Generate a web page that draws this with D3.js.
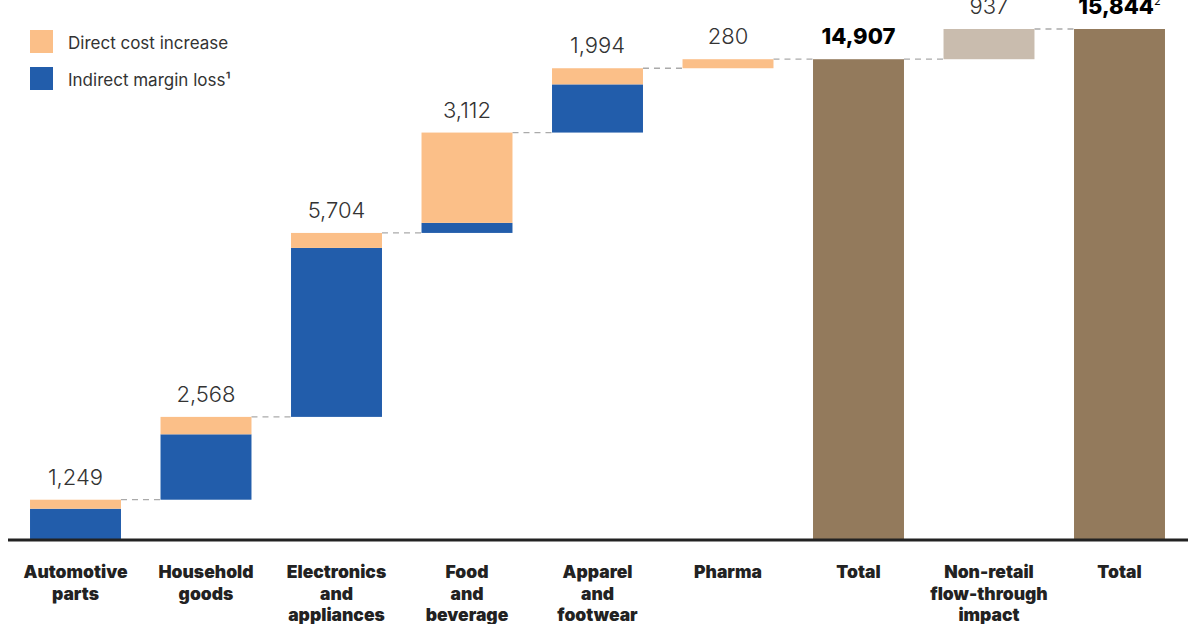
<!DOCTYPE html>
<html>
<head>
<meta charset="utf-8">
<script src="https://cdn.jsdelivr.net/npm/d3@7"></script>
<style>
  body { margin: 0; background: #fff; }
  text { font-family: Inter, "Open Sans", sans-serif; }
</style>
</head>
<body>
<div id="main"></div>
<script>
// values
var categories = ['Automotive parts', 'Household goods', 'Electronics and appliances',
	'Food and beverage', 'Apparel and footwear', 'Pharma'];
var categoryLines = [['Automotive', 'parts'], ['Household', 'goods'], ['Electronics', 'and', 'appliances'],
	['Food', 'and', 'beverage'], ['Apparel', 'and', 'footwear'], ['Pharma'],
	['Total'], ['Non-retail', 'flow-through', 'impact'], ['Total']];
var directCost = [279, 540, 465, 2800, 500, 280];
var indirectLoss = [970, 2028, 5239, 312, 1494, 0];
var nonRetail = 937;
var legendLabels = ['Direct cost increase', 'Indirect margin loss\u00b9'];

var colors = { direct: '#fbbf88', indirect: '#225dab', total: '#937a5c', nonRetail: '#c9bcae' };

var svgWidth = 1190, svgHeight = 624;
var svg = d3.select('#main').append('svg')
	.attr('width', svgWidth)
	.attr('height', svgHeight);

// build waterfall steps
var steps = [];
var run = 0;
categories.forEach(function(c, i){
	var tot = directCost[i] + indirectLoss[i];
	steps.push({ key: c, base: run, indirect: indirectLoss[i], direct: directCost[i], value: tot, type: 'retail' });
	run += tot;
});
var retailTotal = run;
steps.push({ key: 'Total1', base: 0, value: retailTotal, type: 'total' });
steps.push({ key: 'Non-retail', base: retailTotal, value: nonRetail, type: 'nonRetail' });
steps.push({ key: 'Total2', base: 0, value: retailTotal + nonRetail, type: 'total' });

var x = d3.scaleBand()
	.domain(steps.map(function(d){ return d.key; }))
	.range([10.25, 1184.75])
	.paddingInner(0.303)
	.paddingOuter(0.1515);

var y = d3.scaleLinear()
	.domain([0, retailTotal + nonRetail])
	.range([540, 29]);

var fmt = d3.format(',');

// connectors
for (var i = 0; i < steps.length - 1; i++) {
	var s = steps[i];
	var lvl = s.base + s.value;
	svg.append('line')
		.attr('x1', x(s.key) + x.bandwidth())
		.attr('x2', x(steps[i + 1].key))
		.attr('y1', y(lvl))
		.attr('y2', y(lvl))
		.style('stroke', '#aaa')
		.style('stroke-width', 1.3)
		.style('stroke-dasharray', '6,5');
}

var bars = svg.append('g');
steps.forEach(function(s){
	if (s.type == 'retail') {
		if (s.indirect > 0) {
			bars.append('rect')
				.attr('x', x(s.key)).attr('width', x.bandwidth())
				.attr('y', y(s.base + s.indirect))
				.attr('height', y(s.base) - y(s.base + s.indirect))
				.style('fill', colors.indirect);
		}
		bars.append('rect')
			.attr('x', x(s.key)).attr('width', x.bandwidth())
			.attr('y', y(s.base + s.indirect + s.direct))
			.attr('height', y(s.base + s.indirect) - y(s.base + s.indirect + s.direct))
			.style('fill', colors.direct);
	} else {
		bars.append('rect')
			.attr('x', x(s.key)).attr('width', x.bandwidth())
			.attr('y', y(s.base + s.value))
			.attr('height', y(s.base) - y(s.base + s.value))
			.style('fill', s.type == 'total' ? colors.total : colors.nonRetail);
	}
});

// value labels
steps.forEach(function(s){
	var t = svg.append('text')
		.attr('x', x(s.key) + x.bandwidth() / 2)
		.attr('y', y(s.base + s.value) - 15)
		.attr('text-anchor', 'middle')
		.style('font-size', '22px');
	if (s.type == 'total') {
		t.style('font-weight', 800).style('fill', '#000').text(fmt(s.value));
		if (s.key == 'Total2') {
			t.append('tspan').attr('dy', -9).style('font-size', '11px').style('font-weight', 400).text('2');
		}
	} else {
		t.style('font-weight', 300).style('fill', '#333').text(fmt(s.value));
	}
});

// axis line
svg.append('line')
	.attr('x1', 8).attr('x2', 1188)
	.attr('y1', 540).attr('y2', 540)
	.style('stroke', '#222')
	.style('stroke-width', 3);

// category labels
steps.forEach(function(s, i){
	var t = svg.append('text')
		.attr('x', x(s.key) + x.bandwidth() / 2)
		.attr('y', 578)
		.attr('text-anchor', 'middle')
		.style('font-size', '17.5px')
		.style('font-weight', 900)
		.style('fill', '#222');
	categoryLines[i].forEach(function(line, j){
		t.append('tspan')
			.attr('x', x(s.key) + x.bandwidth() / 2)
			.attr('dy', j == 0 ? 0 : 21.5)
			.text(line);
	});
});

// legend
var legend = svg.append('g');
[colors.direct, colors.indirect].forEach(function(c, i){
	legend.append('rect')
		.attr('x', 30).attr('y', 30 + i * 37)
		.attr('width', 23).attr('height', 23)
		.style('fill', c);
	legend.append('text')
		.attr('x', 68).attr('y', 43 + i * 37)
		.attr('dy', '0.35em')
		.style('font-size', '17px')
		.style('fill', '#333')
		.text(legendLabels[i]);
});
</script>
</body>
</html>
